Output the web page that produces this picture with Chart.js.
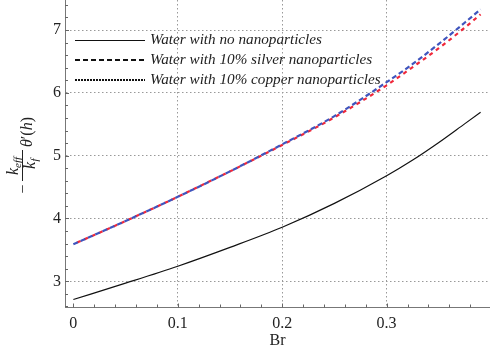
<!DOCTYPE html>
<html><head><meta charset="utf-8">
<script src="https://cdn.jsdelivr.net/npm/chart.js@4"></script>
<style>html,body{margin:0;padding:0;background:#fff;overflow:hidden}</style>
</head><body>
<canvas id="c" width="490" height="350" style="display:block;width:490px;height:350px"></canvas>
<script>
// ---- data ----
const br = [0, 0.05, 0.1, 0.15, 0.2, 0.25, 0.3, 0.325, 0.35, 0.375, 0.39];
const noNano = [2.71, 2.97, 3.24, 3.54, 3.86, 4.24, 4.68, 4.93, 5.21, 5.51, 5.69];
const silverNano = [3.59, 3.96, 4.345, 4.75, 5.18, 5.63, 6.17, 6.46, 6.78, 7.12, 7.33];
const copperNano = [3.59, 3.96, 4.345, 4.75, 5.17, 5.61, 6.12, 6.41, 6.71, 7.04, 7.25];
const seriesNames = ['Water with no nanoparticles', 'Water with 10% silver nanoparticles', 'Water with 10% copper nanoparticles'];
const xTicks = [0, 0.1, 0.2, 0.3];
const xTickLabels = ['0', '0.1', '0.2', '0.3'];
const yTicks = [3, 4, 5, 6, 7];
const yTickLabels = ['3', '4', '5', '6', '7'];
const xTitle = 'Br';

const SERIF = '"Liberation Serif", "Times New Roman", serif';
const pts = arr => br.map((x, i) => ({x, y: arr[i]}));

const inTicks = {
  id: 'inTicks',
  afterDraw(chart) {
    const {ctx, chartArea: a, scales: {x, y}} = chart;
    ctx.save();
    ctx.strokeStyle = '#666'; ctx.lineWidth = 1;
    ctx.beginPath();
    for (let i = 0; i <= 19; i++) {
      const px = Math.round(x.getPixelForValue(i * 0.02)) + 0.5;
      const len = i % 5 === 0 ? 4 : 3;
      ctx.moveTo(px, a.bottom); ctx.lineTo(px, a.bottom - len);
    }
    for (let i = 13; i <= 37; i++) {
      const py = Math.round(y.getPixelForValue(i * 0.2)) + 0.5;
      const len = i % 5 === 0 ? 4 : 3;
      ctx.moveTo(a.left, py); ctx.lineTo(a.left + len, py);
    }
    ctx.stroke();
    ctx.restore();
  }
};

const legendPlugin = {
  id: 'inLegend',
  afterDraw(chart) {
    const ctx = chart.ctx;
    const rows = [40.5, 60, 80];
    const styles = [{dash: [], w: 1.1}, {dash: [5, 3], w: 2}, {dash: [2, 1], w: 2}];
    ctx.save();
    rows.forEach((ry, i) => {
      ctx.strokeStyle = '#111';
      ctx.lineWidth = styles[i].w;
      ctx.setLineDash(styles[i].dash);
      ctx.beginPath(); ctx.moveTo(75, ry); ctx.lineTo(145, ry); ctx.stroke();
      ctx.setLineDash([]);
      ctx.fillStyle = '#222';
      ctx.font = 'italic 15.2px ' + SERIF;
      ctx.textBaseline = 'middle';
      ctx.textAlign = 'left';
      ctx.fillText(seriesNames[i], 150, ry);
    });
    ctx.restore();
  }
};

const yTitlePlugin = {
  id: 'yTitle',
  afterDraw(chart) {
    const ctx = chart.ctx;
    ctx.save();
    ctx.translate(22, 166);
    ctx.rotate(-Math.PI / 2);
    ctx.fillStyle = '#222'; ctx.strokeStyle = '#222';
    ctx.textBaseline = 'alphabetic'; ctx.textAlign = 'left';
    ctx.lineWidth = 1;
    ctx.beginPath(); ctx.moveTo(-15, 0.5); ctx.lineTo(16, 0.5); ctx.stroke();
    ctx.font = '16px ' + SERIF;
    ctx.textAlign = 'center';
    ctx.fillText('\u2212', -23, 5.5);
    ctx.textAlign = 'left';
    const big = 'italic 16px ' + SERIF, small = 'italic 11px ' + SERIF;
    ctx.font = big; const wk = ctx.measureText('k').width;
    ctx.font = small; const we = ctx.measureText('eff').width;
    let s = -(wk + we) / 2;
    ctx.font = big; ctx.fillText('k', s, -4);
    ctx.font = small; ctx.fillText('eff', s + wk, -1);
    const wf = ctx.measureText('f').width;
    s = 2 - (wk + wf) / 2;
    ctx.font = big; ctx.fillText('k', s, 13);
    ctx.font = small; ctx.fillText('f', s + wk + 0.5, 16);
    let u = 19;
    ctx.font = big; ctx.fillText('\u03B8', u, 10); u += ctx.measureText('\u03B8').width;
    ctx.font = '16px ' + SERIF; ctx.fillText('\u2032(', u, 10); u += ctx.measureText('\u2032(').width;
    ctx.font = big; ctx.fillText('h', u, 10); u += ctx.measureText('h').width;
    ctx.font = '16px ' + SERIF; ctx.fillText(')', u, 10);
    ctx.restore();
  }
};

new Chart(document.getElementById('c'), {
  type: 'line',
  data: {
    datasets: [
      {label: seriesNames[0], data: pts(noNano), borderColor: '#111', borderWidth: 1.2},
      {label: seriesNames[1], data: pts(silverNano), borderColor: '#3f55bd', borderWidth: 2.2, borderDash: [5, 3]},
      {label: seriesNames[2], data: pts(copperNano), borderColor: '#f0283a', borderWidth: 2.2, borderDash: [4, 4], borderDashOffset: 4}
    ]
  },
  options: {
    responsive: false,
    animation: false,
    devicePixelRatio: 1,
    layout: {padding: 0},
    plugins: {legend: {display: false}, tooltip: {enabled: false}},
    elements: {point: {radius: 0}, line: {cubicInterpolationMode: 'monotone', fill: false}},
    scales: {
      x: {
        type: 'linear', min: -0.008, max: 0.399,
        afterBuildTicks: s => { s.ticks = xTicks.map(v => ({value: v})); },
        afterFit: s => { s.height = 42.5; s.paddingLeft = 0; s.paddingRight = 0; },
        grid: {color: c => (c.tick && c.tick.value === 0) ? 'rgba(0,0,0,0)' : '#999', lineWidth: 1, drawTicks: false},
        border: {color: '#777', width: 1, dash: [1.5, 2.5]},
        ticks: {padding: 7, color: '#222', font: {family: SERIF, size: 16}, maxRotation: 0,
                callback: (v, i) => xTickLabels[i]},
        title: {display: true, text: xTitle, color: '#222', font: {family: SERIF, size: 16}, padding: {top: 2, bottom: 0}}
      },
      y: {
        type: 'linear', min: 2.583, max: 7.478,
        afterBuildTicks: s => { s.ticks = yTicks.map(v => ({value: v})); },
        afterFit: s => { s.width = 65; s.paddingTop = 0; s.paddingBottom = 0; },
        grid: {color: '#999', lineWidth: 1, drawTicks: false},
        border: {color: '#777', width: 1, dash: [1.5, 2.5]},
        ticks: {padding: 4, color: '#222', font: {family: SERIF, size: 16},
                callback: (v, i) => yTickLabels[i]}
      }
    }
  },
  plugins: [inTicks, legendPlugin, yTitlePlugin]
});
</script>
</body></html>
